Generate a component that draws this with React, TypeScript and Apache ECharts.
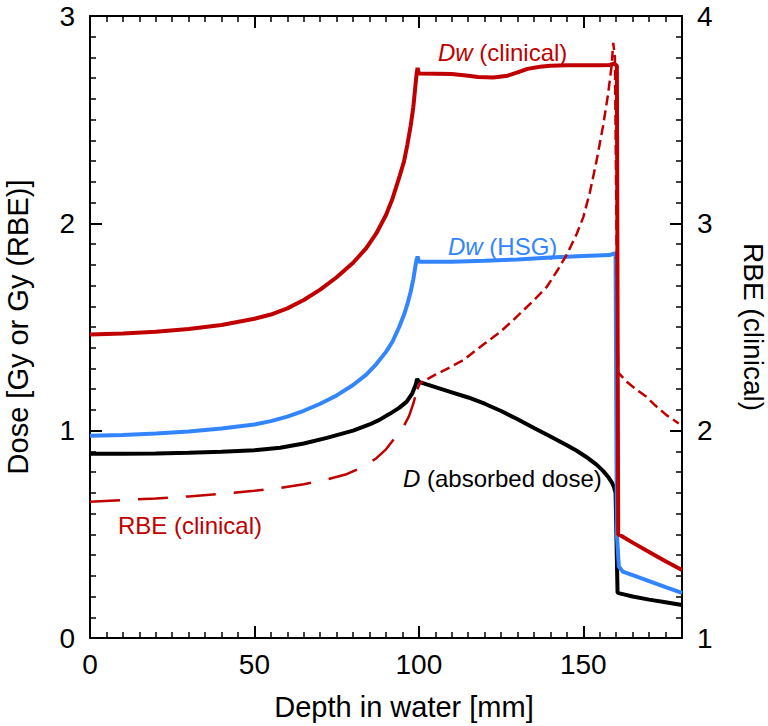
import React, { useEffect, useRef } from "react";
import * as echarts from "echarts";

// ---- data ----
const depthDwClin = [0, 10, 20, 30, 40, 50, 55, 60, 65, 70, 75, 80, 84, 87, 90, 92, 94, 95.5, 96.5, 97.5, 98.3, 98.8, 99.3, 99.6, 100, 105, 110, 115, 118, 122.6, 127, 130, 133, 136.8, 140, 145, 150, 155, 158, 159.3, 160.2, 160.6, 161.5, 165, 170, 175, 180];
const dwClin = [1.464, 1.469, 1.477, 1.49, 1.51, 1.54, 1.56, 1.59, 1.63, 1.68, 1.74, 1.81, 1.88, 1.95, 2.04, 2.12, 2.22, 2.3, 2.38, 2.47, 2.56, 2.64, 2.72, 2.75, 2.723, 2.722, 2.72, 2.712, 2.706, 2.703, 2.712, 2.728, 2.745, 2.755, 2.76, 2.762, 2.763, 2.763, 2.764, 2.77, 2.76, 0.5, 0.493, 0.46, 0.415, 0.37, 0.328];

const depthDwHsg = [0, 10, 20, 30, 40, 50, 55, 60, 65, 70, 75, 80, 84, 87, 90, 92, 94, 95.5, 96.5, 97.5, 98.3, 98.8, 99.3, 99.6, 100, 110, 120, 130, 140, 150, 158, 159.4, 159.8, 160.2, 160.8, 162, 165, 170, 175, 180];
const dwHsg = [0.975, 0.979, 0.986, 0.996, 1.01, 1.03, 1.046, 1.068, 1.096, 1.13, 1.17, 1.22, 1.27, 1.32, 1.38, 1.43, 1.5, 1.56, 1.61, 1.67, 1.73, 1.78, 1.825, 1.84, 1.815, 1.815, 1.82, 1.826, 1.835, 1.843, 1.847, 1.855, 1.85, 0.5, 0.345, 0.32, 0.303, 0.274, 0.245, 0.218];

const depthDose = [0, 10, 20, 30, 40, 50, 57.8, 65, 72, 80, 85, 88, 91, 94, 96.3, 98, 99, 99.5, 100, 105, 110, 115, 120, 125, 130, 135, 140, 145, 148, 151, 154, 156, 157.5, 158.6, 159.3, 159.8, 160.4, 161, 165, 170, 175, 180];
const dose = [0.889, 0.889, 0.89, 0.893, 0.898, 0.906, 0.918, 0.938, 0.965, 1.0, 1.03, 1.052, 1.08, 1.11, 1.14, 1.18, 1.22, 1.25, 1.235, 1.21, 1.185, 1.16, 1.13, 1.095, 1.055, 1.013, 0.972, 0.93, 0.903, 0.872, 0.836, 0.806, 0.778, 0.752, 0.73, 0.7, 0.22, 0.215, 0.2, 0.185, 0.172, 0.159];

const depthRbe = [0, 10, 20, 30, 40, 50, 57, 65, 72, 78, 82, 87, 90, 92.2, 94.8, 97, 98.3, 99.5, 100.3, 105, 110, 113.5, 120, 125, 128.7, 135, 138.9, 142, 145, 148, 150, 152, 154, 156, 157.5, 158.6, 159.1, 159.6, 160.3, 160.6, 163.2, 166, 169.2, 172, 175.3, 179];
const rbe = [1.657, 1.665, 1.673, 1.683, 1.695, 1.71, 1.722, 1.742, 1.765, 1.79, 1.818, 1.866, 1.91, 1.955, 2.003, 2.07, 2.13, 2.2, 2.228, 2.27, 2.31, 2.34, 2.42, 2.48, 2.533, 2.63, 2.694, 2.77, 2.85, 2.95, 3.03, 3.15, 3.3, 3.47, 3.62, 3.76, 3.87, 3.8, 2.6, 2.28, 2.236, 2.2, 2.163, 2.12, 2.075, 2.035];
const rbeSplitDepth = 99.5; // dash pattern changes past the peak region

const xTicks = { min: 0, max: 180, interval: 50 };
const yLeftTicks = { min: 0, max: 3, interval: 1 };
const yRightTicks = { min: 1, max: 4, interval: 1 };

const labels = {
  xName: "Depth in water [mm]",
  yLeftName: "Dose [Gy or Gy (RBE)]",
  yRightName: "RBE (clinical)",
};

const RED = "#C00000";
const BLUE = "#3385FF";
const BLACK = "#000000";
const FONT = "'Liberation Sans', Arial, sans-serif";
const GRID = { left: 90, right: 86, top: 16, bottom: 88, outerBoundsMode: "none" };

function pairs(xs: number[], ys: number[]) {
  return xs.map((x, i) => [x, ys[i]]);
}

function axisParts() {
  return {
    axisLine: { show: true, onZero: false, lineStyle: { color: BLACK, width: 2 } },
    axisTick: { show: true, inside: true, length: 12, lineStyle: { color: BLACK, width: 2 } },
    minorTick: { show: true, splitNumber: 10, length: 6, lineStyle: { color: BLACK, width: 1.5 } },
    splitLine: { show: false },
  };
}

// frame chart: axes, ticks, tick labels and axis titles
function frameOption() {
  const tickLabel = () => ({ fontSize: 28, color: BLACK, fontFamily: FONT });
  return {
    animation: false,
    backgroundColor: "#ffffff",
    grid: { ...GRID },
    xAxis: [
      {
        type: "value",
        position: "bottom",
        ...xTicks,
        ...axisParts(),
        axisLabel: { ...tickLabel(), margin: 12, showMaxLabel: false },
        name: labels.xName,
        nameLocation: "middle",
        nameGap: 54,
        nameTextStyle: { fontSize: 29, color: BLACK, fontFamily: FONT, padding: [0, 0, 0, 36] },
      },
      {
        type: "value",
        position: "top",
        ...xTicks,
        ...axisParts(),
        axisLabel: { show: false },
      },
    ],
    yAxis: [
      {
        type: "value",
        position: "left",
        ...yLeftTicks,
        ...axisParts(),
        axisLabel: { ...tickLabel(), margin: 15 },
        name: labels.yLeftName,
        nameLocation: "middle",
        nameGap: 58,
        nameTextStyle: { fontSize: 29, color: BLACK, fontFamily: FONT },
      },
      {
        type: "value",
        position: "right",
        ...yRightTicks,
        ...axisParts(),
        axisLabel: { ...tickLabel(), margin: 15 },
        name: labels.yRightName,
        nameLocation: "middle",
        nameGap: 57,
        nameRotate: -90,
        nameTextStyle: { fontSize: 28, color: BLACK, fontFamily: FONT },
      },
    ],
    series: [],
  };
}

// data chart: curves and in-plot annotations, on the same scales
function dataOption() {
  const rbePairs = pairs(depthRbe, rbe);
  const rbeA = rbePairs.filter((p) => p[0] <= rbeSplitDepth);
  const rbeB = rbePairs.filter((p) => p[0] >= rbeSplitDepth);
  const hidden = { show: false };
  const richText = (text: string, fill: string, x: number, y: number) => ({
    type: "text",
    x,
    y,
    style: {
      text,
      fill,
      fontSize: 24,
      fontFamily: FONT,
      verticalAlign: "middle",
      rich: { i: { fontStyle: "italic", fill, fontSize: 24, fontFamily: FONT } },
    },
  });
  return {
    animation: false,
    backgroundColor: "transparent",
    grid: { ...GRID },
    xAxis: [{ type: "value", ...xTicks, ...hidden }],
    yAxis: [
      { type: "value", ...yLeftTicks, ...hidden },
      { type: "value", ...yRightTicks, ...hidden },
    ],
    series: [
      { type: "line", name: "D", data: pairs(depthDose, dose), showSymbol: false, lineStyle: { color: BLACK, width: 4 } },
      { type: "line", name: "Dw (HSG)", data: pairs(depthDwHsg, dwHsg), showSymbol: false, lineStyle: { color: BLUE, width: 4 } },
      { type: "line", name: "Dw (clinical)", data: pairs(depthDwClin, dwClin), showSymbol: false, lineStyle: { color: RED, width: 4 } },
      { type: "line", name: "RBE (clinical)", yAxisIndex: 1, data: rbeA, showSymbol: false, lineStyle: { color: RED, width: 2.5, type: [30, 18] } },
      { type: "line", name: "RBE (clinical) distal", yAxisIndex: 1, data: rbeB, showSymbol: false, lineStyle: { color: RED, width: 2.5, type: [10, 5] } },
    ],
    graphic: [
      richText("{i|Dw} (clinical)", RED, 438, 52),
      richText("{i|Dw} (HSG)", BLUE, 448, 246),
      richText("{i|D} (absorbed dose)", BLACK, 403, 478),
      richText("RBE (clinical)", RED, 118, 525),
    ],
  };
}

export default function App() {
  const frameRef = useRef<HTMLDivElement>(null);
  const dataRef = useRef<HTMLDivElement>(null);
  useEffect(() => {
    document.body.style.margin = "0";
    if (!frameRef.current || !dataRef.current) return;
    const frame = echarts.init(frameRef.current, null, { renderer: "svg" });
    frame.setOption(frameOption() as any);
    const data = echarts.init(dataRef.current, null, { renderer: "svg" });
    data.setOption(dataOption() as any);
    return () => {
      data.dispose();
      frame.dispose();
    };
  }, []);
  return (
    <div style={{ position: "relative", width: 768, height: 726 }}>
      <div ref={frameRef} style={{ position: "absolute", left: 0, top: 0, width: 768, height: 726 }} />
      <div ref={dataRef} style={{ position: "absolute", left: 0, top: 0, width: 768, height: 726 }} />
    </div>
  );
}
